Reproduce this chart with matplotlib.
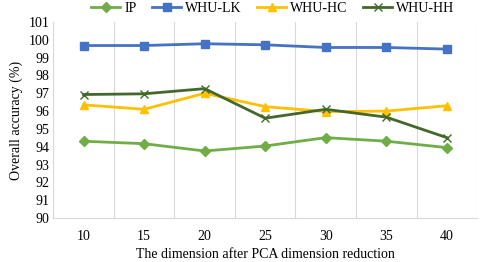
import matplotlib
matplotlib.use("Agg")
import matplotlib.pyplot as plt
import numpy as np

plt.rcParams['font.family'] = ['Liberation Serif', 'DejaVu Serif']

# data
dims = ['10', '15', '20', '25', '30', '35', '40']
ip = [94.31, 94.17, 93.76, 94.04, 94.51, 94.31, 93.95]
whu_lk = [99.68, 99.68, 99.78, 99.72, 99.57, 99.57, 99.48]
whu_hc = [96.35, 96.10, 97.00, 96.25, 95.97, 96.00, 96.30]
whu_hh = [96.93, 96.97, 97.26, 95.60, 96.10, 95.66, 94.51]

fig = plt.figure(figsize=(4.8, 2.62), dpi=100)
ax = fig.add_axes([0.111, 0.168, 0.883, 0.748])

x = np.arange(len(dims))
ax.plot(x, ip, color='#70AD47', marker='D', markersize=5, lw=2, label='IP')
ax.plot(x, whu_lk, color='#4472C4', marker='s', markersize=6, lw=2, label='WHU-LK')
ax.plot(x, whu_hc, color='#FFC000', marker='^', markersize=6, lw=2, label='WHU-HC')
ax.plot(x, whu_hh, color='#43682B', marker='x', markersize=6, mew=1, lw=2, label='WHU-HH')

ax.set_xlim(-0.5, len(dims) - 0.5)
ax.set_ylim(90, 101)
ax.set_yticks(range(90, 102))
ax.set_xticks(x)
ax.set_xticklabels(dims)
ax.set_xticks(np.arange(-0.5, len(dims), 1), minor=True)
ax.grid(which='minor', axis='x', color='#D9D9D9', lw=0.8)
ax.tick_params(which='both', length=0)
ax.tick_params(axis='x', labelsize=10, pad=9)
ax.tick_params(axis='y', labelsize=10, pad=3)

for s in ['top', 'right']:
    ax.spines[s].set_visible(False)
ax.spines['left'].set_color('#D9D9D9')
ax.spines['bottom'].set_color('#D9D9D9')

ax.set_ylabel('Overall accuracy (%)', fontsize=10)
ax.set_xlabel('The dimension after PCA dimension reduction', fontsize=10, labelpad=3)

ax.legend(loc='center', bbox_to_anchor=(0.518, 1.071), ncol=4, frameon=False,
          fontsize=10, handlelength=2.1, columnspacing=1.1, handletextpad=0.3,
          borderaxespad=0, borderpad=0)

fig.savefig('out.png', dpi=100)
